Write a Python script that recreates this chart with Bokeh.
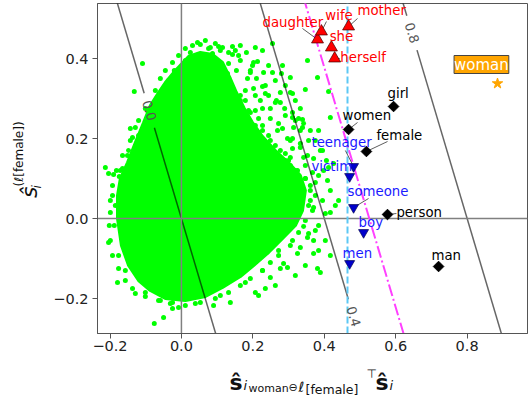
import numpy as np
from bokeh.plotting import figure
from bokeh.layouts import column, row
from bokeh.models import Label, FixedTicker, CustomJSTickFormatter, Range1d
from bokeh.core.properties import value
from bokeh.embed import file_html
from bokeh.resources import INLINE

# ---------------- data ----------------
x_lim = (-0.235, 0.969)
y_lim = (-0.2875, 0.5375)
x_ticks = [-0.2, 0.0, 0.2, 0.4, 0.6, 0.8]
y_ticks = [-0.2, 0.0, 0.2, 0.4]

# female-ish words (red, up triangles)
red_words = ["daughter", "wife", "mother", "she", "herself"]
red_x = [0.381, 0.392, 0.468, 0.420, 0.429]
red_y = [0.4475, 0.4675, 0.480, 0.4275, 0.400]

# neutral-ish words (black diamonds)
black_words = ["girl", "women", "female", "person", "man"]
black_x = [0.594, 0.468, 0.518, 0.577, 0.720]
black_y = [0.280, 0.2225, 0.1675, 0.010, -0.120]

# male-ish words (blue, down triangles)
blue_words = ["teenager", "victim", "someone", "boy", "men"]
blue_x = [0.482, 0.471, 0.482, 0.510, 0.471]
blue_y = [0.130, 0.105, 0.0275, -0.035, -0.1125]

# query word
star_word = "woman"
star_x = [0.885]
star_y = [0.3375]

# contour levels of x + y/3 and the two reference lines
contour_levels = [0.0, 0.4, 0.8]
contour_slope = 1.0 / 3.0
contour_label_y = [0.270, -0.245, 0.464]
magenta_level = 0.526
cyan_x = 0.465

# outline of the dense core of the vocabulary cloud
cloud_x = [-0.179, -0.179, -0.171, -0.151, -0.129, -0.106, -0.087, -0.064, -0.045, -0.017,
           0.020, 0.053, 0.087, 0.115, 0.137, 0.154, 0.176, 0.199, 0.227, 0.263,
           0.305, 0.333, 0.347, 0.339, 0.319, 0.286, 0.244, 0.202, 0.165, 0.115,
           0.067, 0.011, -0.045, -0.087, -0.120, -0.148, -0.168]
cloud_y = [0.000, 0.0575, 0.100, 0.140, 0.190, 0.240, 0.2825, 0.315, 0.340, 0.370,
           0.405, 0.415, 0.410, 0.390, 0.350, 0.315, 0.275, 0.240, 0.205, 0.170,
           0.135, 0.1075, 0.070, 0.020, -0.0175, -0.0475, -0.085, -0.1175, -0.145, -0.1725,
           -0.195, -0.205, -0.200, -0.180, -0.155, -0.1175, -0.0675]

# sparse words around the core
sparse_x = [-0.109, -0.132, -0.020, -0.011, -0.022, -0.003, 0.039, 0.076, 0.087, 0.067,
            0.087, 0.048, 0.031, -0.039, -0.053, -0.143, -0.129, -0.137, -0.151, -0.213,
            -0.204, -0.190, -0.174, -0.165, 0.081, 0.104, 0.143, 0.207, 0.255, 0.073,
            0.090, 0.143, 0.109, 0.132, 0.202, 0.213, 0.199, 0.129, 0.185, 0.230,
            0.244, 0.255, 0.353, 0.381, 0.412, 0.305, 0.280, 0.277, 0.235, 0.347,
            0.263, 0.291, 0.311, 0.339, 0.342, 0.272, 0.269, 0.297, 0.305, 0.333,
            0.342, 0.325, 0.412, 0.202, 0.227, 0.249, 0.283, 0.305, 0.311, 0.277,
            0.328, 0.417, 0.314, 0.319, 0.339, 0.311, 0.333, 0.291, 0.305, 0.353,
            0.370, 0.426, 0.398, 0.409, 0.440, 0.375, 0.361, 0.395, 0.370, 0.417,
            0.403, 0.384, 0.356, 0.370, 0.333, 0.370, 0.389, 0.381, 0.286, 0.297,
            0.384, 0.216, 0.235, 0.137, 0.090, 0.249, 0.277, 0.325, 0.353, -0.076,
            -0.050, -0.025, -0.025, -0.008, -0.129, -0.179, -0.204, -0.193, -0.199,
            -0.185, -0.188, -0.176, -0.157, -0.101, -0.059, 0.039, 0.109, 0.179, 0.227,
            0.272, 0.311, 0.342, 0.356, 0.361, 0.347, 0.305, 0.263, 0.216, 0.179,
            0.151, 0.123, 0.104, 0.053, 0.011, -0.036, -0.073, -0.095, -0.120, -0.148,
            -0.171, 0.067, 0.039, 0.020, 0.006, -0.031, 0.045, 0.025, 0.109, 0.011,
            0.165, 0.154, 0.179, 0.165, 0.207, 0.227, 0.249,
            0.179, 0.193, 0.216, 0.227, 0.244, 0.263, 0.277, 0.291, 0.305, 0.207,
            0.235, 0.263, 0.291, 0.319, 0.333, 0.361, 0.375, 0.389, 0.347, 0.367,
            0.221, 0.249, 0.283, 0.311, 0.193, 0.160, 0.227,
            0.123, 0.143, 0.165, 0.160, 0.188, 0.207, 0.182, 0.216, 0.235, 0.255,
            0.277, 0.300, 0.319, 0.347, 0.361, 0.375, 0.367, 0.347, 0.375, 0.328,
            0.305, 0.272, 0.249, 0.227, 0.193, 0.165, 0.132, 0.095, 0.053, 0.011,
            -0.031, -0.064, -0.101, -0.137, -0.157, -0.176, -0.193, -0.199, -0.202, -0.199,
            -0.193, -0.182, -0.165, -0.143, -0.120, -0.101,
            0.011, 0.031, 0.053, 0.067, 0.095, 0.115, 0.132, 0.151, 0.165, 0.182,
            -0.008, -0.025, -0.045, -0.059, 0.193, 0.210, 0.227, 0.244, 0.266, 0.289,
            0.311, 0.333, 0.356, 0.384, 0.395, 0.406, 0.384, 0.417, 0.431, 0.403,
            0.417, 0.347, 0.319, 0.263, 0.207]
sparse_y = [0.3875, 0.3175, 0.370, 0.3625, 0.340, 0.3575, 0.390, 0.425, 0.4125, 0.3775,
            0.3875, 0.365, 0.345, 0.325, 0.315, 0.225, 0.2275, 0.2025, 0.1575, 0.1275,
            0.1125, 0.110, 0.105, 0.125, 0.4275, 0.430, 0.430, 0.4275, 0.4375, 0.4075,
            0.395, 0.410, 0.3825, 0.3875, 0.390, 0.3925, 0.3825, 0.3625, 0.350, 0.365,
            0.3825, 0.365, 0.395, 0.3525, 0.3175, 0.315, 0.3625, 0.315, 0.3125, 0.3225,
            0.290, 0.2575, 0.2525, 0.2475, 0.2375, 0.2375, 0.220, 0.200, 0.195, 0.1775,
            0.1525, 0.120, 0.1275, 0.325, 0.275, 0.250, 0.3825, 0.3525, 0.3125, 0.290,
            0.250, 0.2525, 0.2275, 0.245, 0.2275, 0.200, 0.1875, 0.1625, 0.1525, 0.1575,
            0.150, 0.1375, 0.120, 0.095, 0.045, 0.090, 0.045, 0.045, 0.0275, 0.015,
            0.0125, -0.0175, -0.0375, -0.055, -0.0725, -0.0875, -0.135, -0.125, -0.1125, -0.1225,
            -0.080, -0.1925, -0.175, -0.210, -0.2175, -0.1475, -0.125, -0.0875, -0.0475, -0.2625,
            -0.2475, -0.225, -0.210, -0.2225, -0.1875, -0.160, -0.060, 0.0575, 0.015,
            0.0325, -0.0175, -0.0925, -0.130, -0.185, -0.205, -0.2125, -0.1925, -0.160, -0.130,
            -0.0925, -0.055, -0.020, 0.0325, 0.070, 0.100, 0.125, 0.150, 0.180, 0.220,
            0.265, 0.315, 0.365, 0.375, 0.365, 0.345, 0.320, 0.270, 0.2075, 0.170,
            0.120, 0.4025, 0.370, 0.3525, 0.3375, 0.3125, 0.440, 0.415, 0.420, 0.395,
            0.395, 0.370, 0.320, 0.295, 0.270, 0.2325, 0.195,
            0.295, 0.265, 0.250, 0.220, 0.2075, 0.1825, 0.170, 0.145, 0.1325, 0.3075,
            0.3325, 0.345, 0.3325, 0.295, 0.275, 0.220, 0.195, 0.170, 0.1325, 0.115,
            0.295, 0.275, 0.225, 0.175, 0.365, 0.4075, 0.420,
            0.345, 0.325, 0.3075, 0.2825, 0.270, 0.2325, 0.250, 0.215, 0.190, 0.175,
            0.150, 0.145, 0.120, 0.100, 0.0825, 0.0575, 0.020, -0.005, -0.030, -0.035,
            -0.0675, -0.080, -0.110, -0.130, -0.150, -0.1675, -0.185, -0.200, -0.210, -0.2175,
            -0.2125, -0.205, -0.195, -0.175, -0.155, -0.125, -0.0925, -0.055, -0.0175, 0.045,
            0.0825, 0.120, 0.1575, 0.195, 0.245, 0.275,
            0.425, 0.4325, 0.435, 0.445, 0.4375, 0.4275, 0.415, 0.420, 0.4325, 0.415,
            0.4075, 0.390, 0.370, 0.350, 0.370, 0.350, 0.330, 0.3075, 0.295, 0.275,
            0.265, 0.220, 0.195, 0.220, 0.170, 0.145, 0.1075, 0.070, 0.0325, -0.055,
            -0.0925, -0.1175, -0.1425, -0.1675, -0.185]

# annotation text anchors (left, middle) and leader-line starts
red_lx = [0.227, 0.403, 0.493, 0.415, 0.445]
red_ly = [0.490, 0.5075, 0.520, 0.455, 0.4025]
black_lx = [0.577, 0.451, 0.546, 0.602, 0.700]
black_ly = [0.3125, 0.2575, 0.2075, 0.015, -0.0925]
blue_lx = [0.364, 0.364, 0.465, 0.496, 0.451]
blue_ly = [0.190, 0.130, 0.0675, -0.010, -0.0875]
leader_x0 = [0.339, 0.406, 0.493, 0.443, 0.493, 0.577, 0.459, 0.524, 0.602]
leader_y0 = [0.475, 0.4925, 0.500, 0.400, 0.240, 0.1925, 0.170, 0.050, 0.0125]
leader_x1 = [red_x[0], red_x[1], red_x[2], red_x[4], black_x[1], black_x[2], blue_x[0], blue_x[2], black_x[3]]
leader_y1 = [red_y[0], red_y[1], red_y[2], red_y[4], black_y[1], black_y[2], blue_y[0], blue_y[2], black_y[3]]

# ---------------- layout sizes ----------------
W, H = 529, 396
YLAB_W = 50
MAIN_H = 362
FONT = "DejaVu Sans"

# ---------------- main figure ----------------
p = figure(width=W - YLAB_W, height=MAIN_H, output_backend="svg", toolbar_location=None,
           x_range=x_lim, y_range=y_lim,
           min_border_left=97 - YLAB_W, min_border_right=2, min_border_top=3,
           min_border_bottom=MAIN_H - 333)
p.xgrid.visible = False
p.ygrid.visible = False
p.background_fill_color = "white"
p.border_fill_color = "white"
p.outline_line_color = "#555555"
p.outline_line_width = 1

fmt = CustomJSTickFormatter(code="return (tick < -1e-9 ? '\\u2212' : '') + Math.abs(tick).toFixed(1);")
for ax, ticks in ((p.xaxis, x_ticks), (p.yaxis, y_ticks)):
    ax.ticker = FixedTicker(ticks=ticks)
    ax.formatter = fmt
    ax.axis_line_color = "#555555"
    ax.major_tick_line_color = "#555555"
    ax.major_tick_out = 5
    ax.major_tick_in = 0
    ax.minor_tick_out = 0
    ax.minor_tick_in = 0
    ax.major_label_text_font = FONT
    ax.major_label_text_font_size = "14.5px"
    ax.major_label_text_color = "#222222"
p.xaxis.major_label_standoff = 2
p.yaxis.major_label_standoff = 4

GREEN = "#00ff00"
p.patch(cloud_x, cloud_y, fill_color=GREEN, line_color=GREEN, line_width=3)
p.scatter(sparse_x, sparse_y, size=5, fill_color=GREEN, line_color=None)

# contour lines (broken at their labels)
gap = 0.043
ylo, yhi = y_lim[0] - 0.05, y_lim[1] + 0.05
cxs, cys = [], []
for c, yl in zip(contour_levels, contour_label_y):
    for a, b in ((ylo, yl - gap), (yl + gap, yhi)):
        cxs.append([c - a * contour_slope, c - b * contour_slope])
        cys.append([a, b])
p.multi_line(cxs, cys, line_color="black", line_alpha=0.6, line_width=1.5)

# zero lines
p.segment(x0=[x_lim[0]], y0=[0], x1=[x_lim[1]], y1=[0], line_color="#808080", line_width=1.5)
p.segment(x0=[0], y0=[y_lim[0]], x1=[0], y1=[y_lim[1]], line_color="#808080", line_width=1.5)

# reference lines
p.segment(x0=[cyan_x], y0=[ylo], x1=[cyan_x], y1=[yhi], line_color="#5cc8f5",
          line_width=2, line_dash="7 3")
p.segment(x0=[magenta_level - ylo * contour_slope], y0=[ylo],
          x1=[magenta_level - yhi * contour_slope], y1=[yhi],
          line_color="#ff40ff", line_width=2, line_dash="12 3 2 3")

# contour labels
p.text(x=[c - yl * contour_slope for c, yl in zip(contour_levels, contour_label_y)],
       y=contour_label_y, text=[f"{c:.1f}" for c in contour_levels],
       angle=-1.28, text_align="center", text_baseline="middle",
       text_font=value(FONT), text_font_size="13px", text_color="#555555")

# leader lines
p.segment(x0=leader_x0, y0=leader_y0, x1=leader_x1, y1=leader_y1,
          line_color="#333333", line_width=0.8)

# markers
p.scatter(red_x, red_y, marker="triangle", size=12, fill_color="red", line_color="#400000", line_width=0.7)
p.scatter(black_x, black_y, marker="square", angle=np.pi / 4, size=7.5, fill_color="black", line_color="black")
p.scatter(blue_x, blue_y, marker="inverted_triangle", size=10, fill_color="#0000cc", line_color="#000050", line_width=0.7)
p.scatter(star_x, star_y, marker="star", size=11, fill_color="#ffa500", line_color="#ffa500")

# word labels
p.text(x=red_lx, y=red_ly, text=red_words, text_color="red", text_align="left", text_baseline="middle",
       text_font=value(FONT), text_font_size="13.3px")
p.text(x=black_lx, y=black_ly, text=black_words, text_color="black", text_align="left", text_baseline="middle",
       text_font=value(FONT), text_font_size="13.3px")
p.text(x=blue_lx, y=blue_ly, text=blue_words, text_color="#1a1aff", text_align="left", text_baseline="middle",
       text_font=value(FONT), text_font_size="13.3px")

p.add_layout(Label(x=0.840, y=0.385, text=star_word, text_align="center", text_baseline="middle",
                   text_color="white", text_font=FONT, text_font_size="15px",
                   background_fill_color="#ffa500", border_line_color="#444444", border_line_width=1,
                   padding=0))


# ---------------- axis-label panels ----------------
def label_panel(w, h):
    f = figure(width=w, height=h, output_backend="svg", toolbar_location=None,
               x_range=Range1d(0, w), y_range=Range1d(0, h),
               x_axis_type=None, y_axis_type=None,
               min_border=0, min_border_left=0, min_border_right=0,
               min_border_top=0, min_border_bottom=0)
    f.xgrid.visible = False
    f.ygrid.visible = False
    f.outline_line_color = None
    f.background_fill_color = "white"
    f.border_fill_color = "white"
    return f


def piece(f, x, y, txt, size, style="normal", angle=0.0, align="left", baseline="alphabetic"):
    f.text(x=[x], y=[y], text=[txt], angle=angle, text_align=align, text_baseline=baseline,
           text_font=value(FONT), text_font_size=size, text_font_style=style, text_color="#111111")


# x label: ŝ_{i_woman ⊖ ℓ[female]}^⊤ ŝ_i
XLAB_H = H - MAIN_H
xl = label_panel(W, XLAB_H)
piece(xl, 229, 14, "ŝ", "22px", "bold")
piece(xl, 243, 11, "i", "13px", "italic")
piece(xl, 248, 8, "woman", "11px")
piece(xl, 288, 9, "⊖", "11px")
piece(xl, 298, 10, "ℓ", "14px", "italic")
piece(xl, 305, 7, "[female]", "12.5px")
piece(xl, 366, 23, "⊤", "12px")
piece(xl, 375, 14, "ŝ", "22px", "bold")
piece(xl, 389, 11, "i", "13px", "italic")

# y label: ŝ_i^(ℓ[female]) (rotated; centred pieces, y measured from panel bottom)
yl_fig = label_panel(YLAB_W, MAIN_H)
piece(yl_fig, 29, 155, "ŝ", "22px", "italic", np.pi / 2, "center", "middle")
piece(yl_fig, 36, 161, "i", "12px", "italic", np.pi / 2, "center", "middle")
piece(yl_fig, 18, 197, "(ℓ[female])", "12px", "normal", np.pi / 2, "center", "middle")

layout = column(row(yl_fig, p, spacing=0), xl, spacing=0)
open("out.html", "w").write(file_html(layout, INLINE))
